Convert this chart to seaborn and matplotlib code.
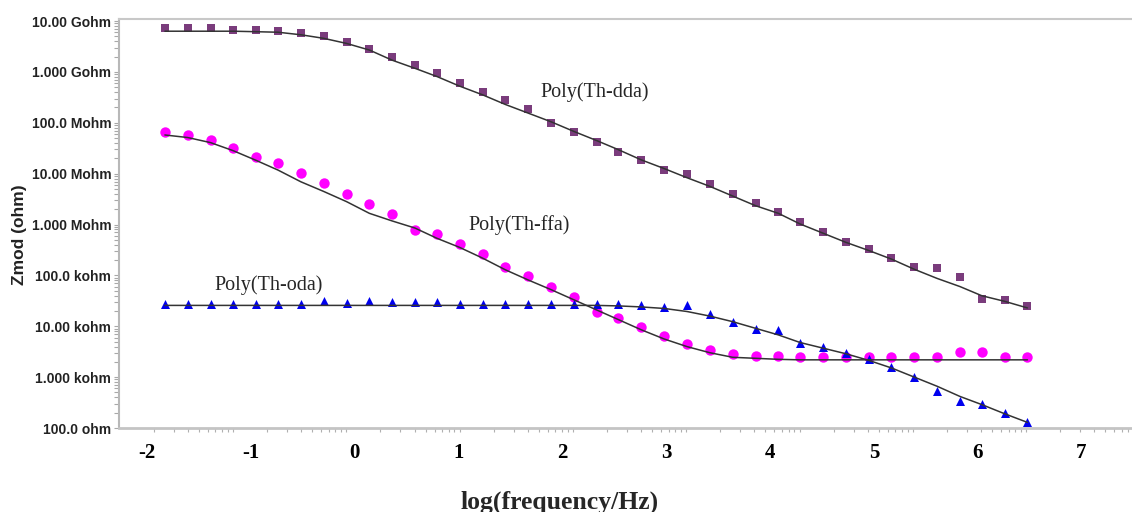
import numpy as np
import matplotlib
matplotlib.use("Agg")
import matplotlib.pyplot as plt
from matplotlib import ticker
import seaborn as sns

# log(frequency/Hz) of each measured point (same grid for the three films)
log_freq = [-1.83, -1.61, -1.39, -1.17, -0.95, -0.74, -0.52, -0.30, -0.08, 0.14,
            0.36, 0.58, 0.79, 1.01, 1.23, 1.45, 1.67, 1.89, 2.11, 2.33,
            2.54, 2.76, 2.98, 3.20, 3.42, 3.64, 3.86, 4.08, 4.29, 4.51,
            4.73, 4.95, 5.17, 5.39, 5.61, 5.83, 6.04, 6.26, 6.48]

# log10(Zmod / ohm), measured points
dda_meas = [9.86, 9.86, 9.86, 9.82, 9.82, 9.80, 9.77, 9.71, 9.59, 9.45,
            9.30, 9.14, 8.97, 8.79, 8.61, 8.45, 8.27, 7.99, 7.81, 7.63,
            7.43, 7.26, 7.07, 6.99, 6.80, 6.60, 6.42, 6.24, 6.04, 5.86,
            5.66, 5.52, 5.35, 5.16, 5.14, 4.96, 4.53, 4.52, 4.40]
ffa_meas = [7.81, 7.76, 7.66, 7.51, 7.33, 7.20, 7.01, 6.81, 6.60, 6.41,
            6.21, 5.89, 5.81, 5.62, 5.42, 5.16, 4.99, 4.77, 4.57, 4.29,
            4.17, 3.98, 3.81, 3.65, 3.54, 3.46, 3.41, 3.41, 3.39, 3.39,
            3.39, 3.39, 3.39, 3.39, 3.39, 3.50, 3.50, 3.39, 3.39]
oda_meas = [4.43, 4.43, 4.43, 4.43, 4.43, 4.43, 4.43, 4.50, 4.45, 4.50,
            4.48, 4.48, 4.48, 4.43, 4.43, 4.43, 4.43, 4.43, 4.43, 4.43,
            4.43, 4.41, 4.38, 4.41, 4.24, 4.09, 3.95, 3.92, 3.68, 3.60,
            3.48, 3.35, 3.19, 3.01, 2.72, 2.54, 2.48, 2.29, 2.11]

# log10(Zmod / ohm), fitted curves
dda_fit = [9.80, 9.80, 9.80, 9.80, 9.79, 9.78, 9.73, 9.66, 9.56, 9.43,
           9.23, 9.07, 8.91, 8.72, 8.55, 8.36, 8.19, 8.02, 7.83, 7.65,
           7.47, 7.27, 7.10, 6.92, 6.75, 6.56, 6.37, 6.22, 6.01, 5.83,
           5.65, 5.49, 5.32, 5.12, 4.94, 4.78, 4.60, 4.49, 4.36]
ffa_fit = [7.76, 7.71, 7.61, 7.45, 7.26, 7.07, 6.84, 6.65, 6.45, 6.22,
           6.07, 5.93, 5.73, 5.55, 5.34, 5.11, 4.91, 4.72, 4.52, 4.32,
           4.13, 3.93, 3.75, 3.60, 3.48, 3.39, 3.37, 3.35, 3.34, 3.34,
           3.34, 3.34, 3.34, 3.34, 3.34, 3.34, 3.34, 3.34, 3.34]
oda_fit = [4.41, 4.41, 4.41, 4.41, 4.41, 4.41, 4.41, 4.41, 4.41, 4.41,
           4.41, 4.41, 4.41, 4.41, 4.41, 4.41, 4.41, 4.41, 4.41, 4.41,
           4.40, 4.38, 4.35, 4.29, 4.20, 4.09, 3.96, 3.83, 3.68, 3.57,
           3.46, 3.33, 3.18, 3.00, 2.82, 2.62, 2.46, 2.28, 2.11]

ytick_vals = [1e2, 1e3, 1e4, 1e5, 1e6, 1e7, 1e8, 1e9, 1e10]
ytick_labels = ["100.0 ohm", "1.000 kohm", "10.00 kohm", "100.0 kohm", "1.000 Mohm",
                "10.00 Mohm", "100.0 Mohm", "1.000 Gohm", "10.00 Gohm"]
xtick_vals = [-2, -1, 0, 1, 2, 3, 4, 5, 6, 7]

sns.set_style("white")
plt.rcParams['axes.unicode_minus'] = False

fig = plt.figure(figsize=(11.32, 5.12), dpi=100)
ax = fig.add_axes([119/1132, 84/512, 1013/1132, 409/512])

#points
sns.scatterplot(x=log_freq, y=10**np.array(dda_meas), marker='s', color='#7a3c7c',
                s=36, linewidth=0, ax=ax, zorder=2)
sns.scatterplot(x=log_freq, y=10**np.array(ffa_meas), marker='o', color='#ff00ff',
                s=56, linewidth=0, ax=ax, zorder=2)
sns.scatterplot(x=log_freq, y=10**np.array(oda_meas), marker='^', color='#0000ee',
                s=42, linewidth=0, ax=ax, zorder=2)

#fits
for fit in [dda_fit, ffa_fit, oda_fit]:
    sns.lineplot(x=log_freq, y=10**np.array(fit), color='#333333', lw=1.1,
                 estimator=None, sort=False, ax=ax, zorder=3)

ax.set_yscale('log')

ax.yaxis.set_major_locator(ticker.FixedLocator(ytick_vals))
ax.yaxis.set_major_formatter(ticker.FixedFormatter(ytick_labels))
ax.yaxis.set_minor_locator(ticker.LogLocator(base=10, subs=np.arange(2, 10)))
ax.yaxis.set_minor_formatter(ticker.NullFormatter())

ax.xaxis.set_major_locator(ticker.FixedLocator(xtick_vals))
ax.xaxis.set_major_formatter(ticker.FixedFormatter([str(v) for v in xtick_vals]))
# minor ticks of the original log-frequency axis
dec_px = 119.7 + 113.3 * np.arange(0, 10)
minor_px = np.concatenate([d + 113.3 * np.log10(np.arange(2, 11)) for d in dec_px])
minor_px = minor_px[minor_px < 1131]
ax.xaxis.set_minor_locator(ticker.FixedLocator(-2 + (minor_px - 147.2) / 103.8))

ax.set_ylim(1e2, 10**10.04)
ax.set_xlim(-2.272, 7.487)

ax.tick_params(which='both', left=True, bottom=True)
ax.tick_params(axis='y', which='both', direction='out', color='#a8a8a8',
               length=3.5, width=0.8, pad=2)
ax.tick_params(axis='y', which='major', labelsize=10)
ax.tick_params(axis='x', which='major', length=0, pad=11, labelsize=15)
ax.tick_params(axis='x', which='minor', direction='out', color='#b0b0b0',
               length=3, width=0.8)
for lab in ax.get_yticklabels():
    lab.set_fontfamily('Liberation Sans')
    lab.set_fontweight('bold')
    lab.set_color('#222222')
for lab in ax.get_xticklabels():
    lab.set_fontfamily('Liberation Serif')
    lab.set_fontweight('bold')
    lab.set_color('black')

ax.spines['right'].set_visible(False)
ax.spines['left'].set_color('#b8b8b8')
ax.spines['left'].set_linewidth(1.5)
ax.spines['top'].set_color('#c8c8c8')
ax.spines['top'].set_linewidth(1.5)
ax.spines['bottom'].set_color('#c4c4c4')
ax.spines['bottom'].set_linewidth(2)

#labels
fig.text(560/1132, 1 - 502/512, 'log(frequency/Hz)', ha='center', va='center',
         fontsize=18.5, fontweight='bold', family='Liberation Serif')
fig.text(20/1132, 1 - 235/512, 'Zmod (ohm)', ha='center', va='center', rotation=90,
         fontsize=12.5, fontweight='bold', family='Liberation Sans', color='#222222')

ax.text(2.31, 10**8.60, 'Poly(Th-dda)', ha='center', va='center',
        fontsize=14.5, family='Liberation Serif')
ax.text(1.58, 10**5.99, 'Poly(Th-ffa)', ha='center', va='center',
        fontsize=14.5, family='Liberation Serif')
ax.text(-0.83, 10**4.81, 'Poly(Th-oda)', ha='center', va='center',
        fontsize=14.5, family='Liberation Serif')

fig.savefig('out.png', dpi=100)
